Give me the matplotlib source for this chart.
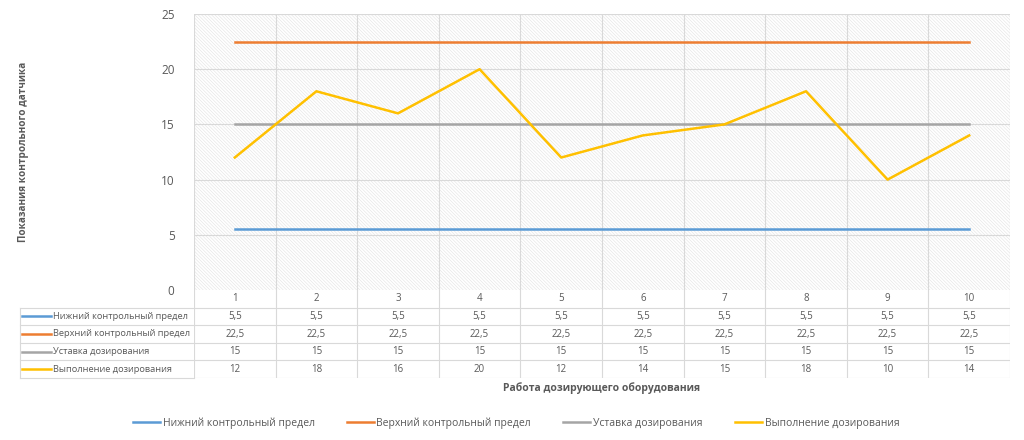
import matplotlib.pyplot as plt
from matplotlib.patches import Rectangle
from matplotlib.lines import Line2D

plt.rcParams['font.family'] = ['Open Sans', 'DejaVu Sans']
plt.rcParams['hatch.linewidth'] = 0.4
plt.rcParams['hatch.color'] = '#e2e2e2'

# data
categories = [1, 2, 3, 4, 5, 6, 7, 8, 9, 10]
series_names = ['Нижний контрольный предел', 'Верхний контрольный предел',
                'Уставка дозирования', 'Выполнение дозирования']
lower_limit = [5.5] * 10
upper_limit = [22.5] * 10
setpoint = [15] * 10
actual = [12, 18, 16, 20, 12, 14, 15, 18, 10, 14]
all_series = [lower_limit, upper_limit, setpoint, actual]
colors = ['#5B9BD5', '#ED7D31', '#A5A5A5', '#FFC000']

W, H = 1024, 440
txt = '#595959'
grid = '#d9d9d9'


def fx(px):
    return px / W


def fy(py):
    return 1 - py / H


fig = plt.figure(figsize=(W / 100, H / 100), dpi=100)

# plot area
left, right, top, bottom = 194, 1010, 14, 290
ax = fig.add_axes([fx(left), fy(bottom), fx(right - left), (bottom - top) / H])
ax.add_patch(Rectangle((0, 0), 1, 1, transform=ax.transAxes, facecolor='white',
                       edgecolor='#e2e2e2', hatch='\\' * 10, lw=0, zorder=0))
ax.set_xlim(0.5, 10.5)
ax.set_ylim(0, 25)
ax.set_yticks(range(0, 26, 5))
ax.set_xticks([])
for y in range(5, 26, 5):
    ax.axhline(y, color=grid, lw=0.8, zorder=1)
for i in range(len(categories) + 1):
    ax.axvline(0.5 + i, color=grid, lw=0.8, zorder=1)
for s in ax.spines.values():
    s.set_visible(False)
ax.tick_params(axis='y', length=0, labelsize=8.5, labelcolor=txt, pad=14)

for vals, c, name in zip(all_series, colors, series_names):
    ax.plot(categories, vals, color=c, lw=1.8, label=name, zorder=3)

ax.set_ylabel('Показания контрольного датчика', fontsize=7.2, fontweight='bold',
              color=txt, labelpad=0)
ax.yaxis.set_label_coords((29 - left) / (right - left), 0.5)

# data table
row_h = 17.6
n_rows = 5
tbot = bottom + row_h * n_rows
tax = fig.add_axes([fx(left), fy(tbot), fx(right - left), row_h * n_rows / H])
tax.set_xlim(0.5, 10.5)
tax.set_ylim(n_rows, 0)
tax.axis('off')
for i in range(len(categories) + 1):
    tax.plot([0.5 + i, 0.5 + i], [0, n_rows], color=grid, lw=0.8)
for r in range(1, n_rows + 1):
    tax.plot([0.5, 10.5], [r, r], color=grid, lw=0.8)
for c in categories:
    tax.text(c, 0.5, str(c), ha='center', va='center', fontsize=7, color=txt)
for r, vals in enumerate(all_series, start=1):
    for c, v in zip(categories, vals):
        s = str(v).replace('.', ',')
        tax.text(c, r + 0.5, s, ha='center', va='center', fontsize=7, color=txt)

# label column of the table
tleft = 20
for r in range(1, n_rows + 1):
    y = bottom + row_h * r
    fig.add_artist(Line2D([fx(tleft), fx(left)], [fy(y), fy(y)], color=grid, lw=0.8))
fig.add_artist(Line2D([fx(tleft), fx(tleft)], [fy(bottom + row_h), fy(tbot)], color=grid, lw=0.8))
for r, (name, c) in enumerate(zip(series_names, colors), start=1):
    y = bottom + row_h * (r + 0.5)
    fig.add_artist(Line2D([fx(22), fx(51)], [fy(y), fy(y)], color=c, lw=1.8))
    fig.text(fx(53), fy(y), name, ha='left', va='center', fontsize=6.7, color=txt)

fig.text(fx((left + right) / 2), fy(388), 'Работа дозирующего оборудования',
         ha='center', va='center', fontsize=7.5, fontweight='bold', color=txt)

handles, labels = ax.get_legend_handles_labels()
fig.legend(handles, labels, loc='center', bbox_to_anchor=(fx(516), fy(423)), ncol=4,
           frameon=False, fontsize=7.5, handlelength=2.6, handletextpad=0.25,
           columnspacing=3.1, labelcolor=txt)

fig.savefig('out.png', dpi=100)
